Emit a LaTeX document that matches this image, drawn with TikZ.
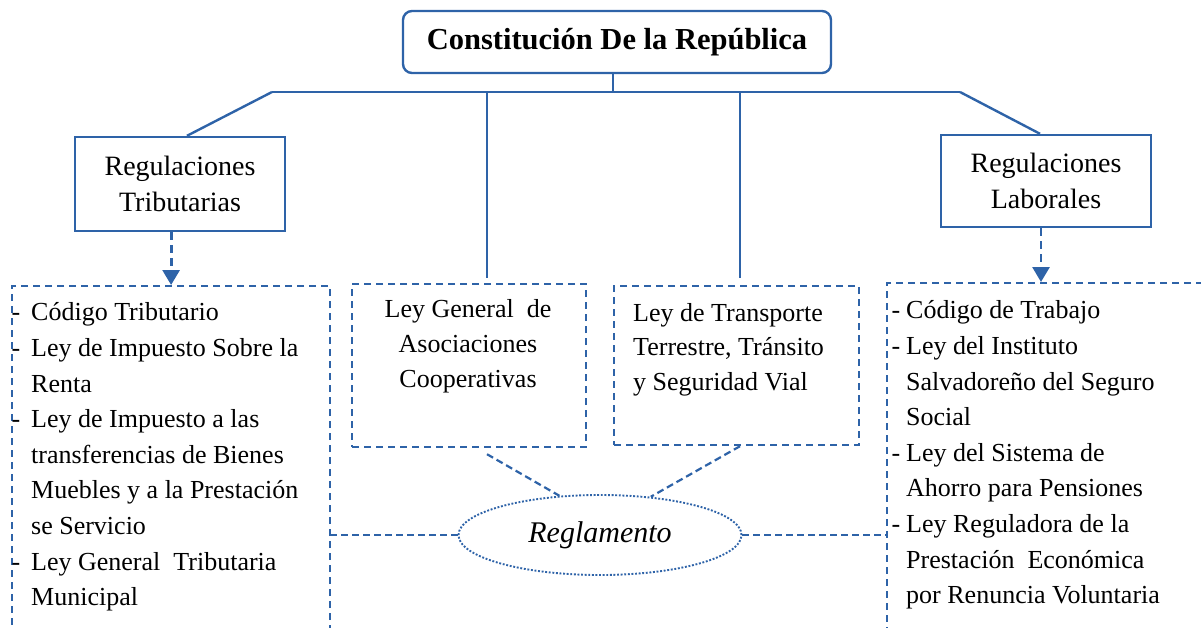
\documentclass[tikz,border=0pt]{standalone}
\usepackage{fontspec}
\setmainfont{Liberation Serif}
\usetikzlibrary{arrows.meta, shapes.geometric, calc}

\definecolor{lineblue}{RGB}{46,99,168}
\newcommand{\guion}[1]{\llap{-\hspace{#1}}}

\begin{document}
\begin{tikzpicture}[x=1pt, y=-1pt,
    treeline/.style={draw=lineblue, line width=2.4pt},
    regbox/.style={draw=lineblue, line width=2.4pt, inner sep=0pt},
    lawbox/.style={draw=lineblue, line width=2.2pt, dash pattern=on 7pt off 5pt, inner sep=0pt},
    dashlink/.style={draw=lineblue, line width=2.2pt, dash pattern=on 7pt off 4pt},
    downarrow/.style={draw=lineblue, line width=2.8pt, dash pattern=on 8pt off 5pt, -{Triangle[width=17pt,length=15pt]}},
    listtext/.style={font=\fontsize{26}{35.6}\selectfont, align=left, inner sep=0pt}]
    \useasboundingbox (0,0) rectangle (1201,627);
    \clip (0,0) rectangle (1201,627);

    % top and the two regulation boxes
    \node[regbox, rounded corners=9pt, minimum width=428pt, minimum height=62pt,
          font=\fontsize{30.5}{36}\selectfont\bfseries] (constitucion) at (617,42) {Constitución De la República};
    \node[regbox, minimum width=210pt, minimum height=94pt, align=center,
          font=\fontsize{28}{36}\selectfont] (tributarias) at (180,184) {Regulaciones\\Tributarias};
    \node[regbox, minimum width=210pt, minimum height=92pt, align=center,
          font=\fontsize{28}{36}\selectfont] (laborales) at (1046,181) {Regulaciones\\Laborales};

    % dashed boxes
    \node[lawbox, anchor=north west, minimum width=318pt, minimum height=400pt] (listtrib) at (11,285) {};
    \node[lawbox, anchor=north west, minimum width=330pt, minimum height=400pt] (listlab) at (886,282) {};
    \node[lawbox, anchor=north west, minimum width=234pt, minimum height=163pt] (leygen) at (351,283) {};
    \node[lawbox, anchor=north west, minimum width=245pt, minimum height=159pt] (leytrans) at (613,285) {};
    \node[draw=lineblue, line width=1.9pt, dash pattern=on 1.9pt off 1.7pt, ellipse, minimum width=283pt, minimum height=80pt,
          font=\fontsize{30}{34}\selectfont\itshape] (reglamento) at (600,535) {Reglamento};

    % texts
    \node[listtext, anchor=north west] (tribitems) at (31,302.6) {\guion{11pt}Código Tributario\\
        \guion{11pt}Ley de Impuesto Sobre la\\
        Renta\\
        \guion{11pt}Ley de Impuesto a las\\
        transferencias de Bienes\\
        Muebles y a la Prestación\\
        se Servicio\\
        \guion{11pt}Ley General~ Tributaria\\
        Municipal};
    \node[listtext, anchor=north west] (labitems) at (906,300.6) {\guion{6pt}Código de Trabajo\\
        \guion{6pt}Ley del Instituto\\
        Salvadoreño del Seguro\\
        Social\\
        \guion{6pt}Ley del Sistema de\\
        Ahorro para Pensiones\\
        \guion{6pt}Ley Reguladora de la\\
        Prestación~ Económica\\
        por Renuncia Voluntaria};
    \node[listtext, align=center, anchor=north, font=\fontsize{26}{35}\selectfont] (leygentxt) at (468,298.8)
        {Ley General~ de\\Asociaciones\\Cooperativas};
    \node[listtext, anchor=north west, font=\fontsize{26}{34.5}\selectfont] (leytranstxt) at (633,302.8)
        {Ley de Transporte\\Terrestre, Tránsito\\y Seguridad Vial};

    % tree
    \coordinate (barL) at (272,92);
    \coordinate (barR) at (960,92);
    \coordinate (ligaA) at (487,92);
    \coordinate (ligaB) at (740,92);
    \draw[treeline] ([xshift=-4pt]constitucion.south) -- ([xshift=-4pt]constitucion.south |- barL);
    \draw[treeline] (barL) -- (barR);
    \draw[treeline] (barL) -- ([xshift=7pt]tributarias.north);
    \draw[treeline] (barR) -- ([xshift=-6pt]laborales.north);
    \draw[treeline] (ligaA) -- ([yshift=5pt]ligaA |- leygen.north);
    \draw[treeline] (ligaB) -- ([yshift=7pt]ligaB |- leytrans.north);

    \draw[downarrow] (listtrib.north |- tributarias.south) -- (listtrib.north);
    \draw[downarrow] ([xshift=-5pt]laborales.south) -- ([xshift=-5pt]laborales.south |- listlab.north);

    % links to the Reglamento
    \draw[dashlink] ([yshift=-6pt]ligaA |- leygen.south) -- (reglamento.136);
    \draw[dashlink] (ligaB |- leytrans.south) -- (reglamento.37);
    \draw[dashlink] (reglamento.west) -- (reglamento.west -| listtrib.east);
    \draw[dashlink] (reglamento.east) -- (reglamento.east -| listlab.west);
\end{tikzpicture}
\end{document}
